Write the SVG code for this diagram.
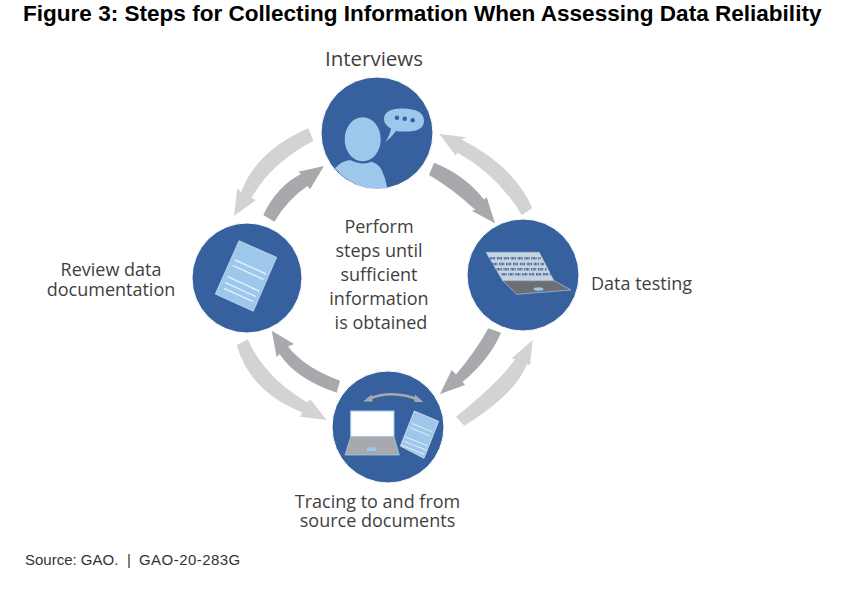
<svg xmlns="http://www.w3.org/2000/svg" width="853" height="593" viewBox="0 0 853 593">
<style>
.t{font-family:"Open Sans","Noto Sans",sans-serif;font-size:18px;fill:#3f3f41}
.m{text-anchor:middle}
.title{font-family:"Liberation Sans",Arial,sans-serif;font-size:22.55px;font-weight:bold;fill:#000}
.src{font-family:"Liberation Sans",Arial,sans-serif;font-size:15px;fill:#333}
.c{fill:#37619E;stroke:#fff;stroke-width:1}
.lb{fill:#9DC8EB}
.dk{fill:#A7A9AC}
.lt{fill:#D1D3D4}
.ln{stroke:#E4EFF8;stroke-width:1.4;fill:none}
.bin{stroke:#37619E;stroke-width:2.4;stroke-dasharray:.9 .5 .9 .5 .9 .5 .9 1.8;fill:none}
</style>
<rect width="853" height="593" fill="#fff"/>
<text class="title" x="23" y="21">Figure 3: Steps for Collecting Information When Assessing Data Reliability</text>
<g id="connectors">
<path class="dk" d="M434 162.7Q465 175 484 199.6L486.7 197.3L495 223.3L471.7 210.7L475.4 210Q453 189 429 175Z"/>
<path class="lt" d="M532.3 208.3Q515 167 461.7 139.5L466.7 137.3L439.3 134L456 156L457 152.5Q498 175 521.7 215Z"/>
<path class="dk" d="M488.3 328.3Q476 351 456 374.5L451.7 370L440 394L465 385L462.5 382Q490 359 501 332.7Z"/>
<path class="lt" d="M456 416.7Q498 383 515 359.5L511.7 358.3L532.7 340L530 365L527 364Q515 395 464.3 425.7Z"/>
<path class="dk" d="M340 380.7Q305 368 288 346.5L294 344L271.7 330.7L276.7 357.3L279.5 354Q296 379 336.7 392.7Z"/>
<path class="lt" d="M236.7 345Q250 392 302.5 412.5L300 416.7L326.7 420L310 399L307.5 402.5Q265 378 247.7 339.3Z"/>
<path class="dk" d="M263.3 215Q277 186 301 174L298.3 171.7L324 166L310 189.3L307.5 186Q288 199 274.3 221.7Z"/>
<path class="lt" d="M308.3 128.3Q256 151 241 192.5L237.3 188.3L234 216L256 200L251.5 198Q270 164 313.3 140.7Z"/>
</g>
<g id="node-interviews">
<circle class="c" cx="377" cy="133" r="56"/>
<path class="lb" d="M335 168.3Q341 161 350 160Q362 166 371.7 161.7Q379 164 381.7 170Q385.5 178 387.3 188A55.5 55.5 0 0 1 335 168.3Z"/>
<ellipse class="lb" cx="362.7" cy="139.3" rx="18.5" ry="22.5" stroke="#37619E" stroke-width="1"/>
<path class="lb" d="M384 119C384 111 392 108.5 403 108.5C416 109 424 112 424 121C424 130 414 132 403 131.5Q398 131.5 396 131Q391 138 385 142.3Q390 135 391 128.5Q384 125 384 119Z"/>
<g fill="#37619E"><circle cx="397" cy="117.7" r="2.2"/><circle cx="404.7" cy="118.7" r="2.2"/><circle cx="412.7" cy="120.3" r="2.2"/></g>
<text class="t m" x="374" y="66" style="font-size:20.5px">Interviews</text>
</g>
<g id="node-data-testing">
<circle class="c" cx="523" cy="275" r="56"/>
<path fill="#C9D3DC" stroke="#9DC8EB" stroke-width=".6" d="M486 252.3H539.3L554 280.7H502.7Z"/>
<path class="bin" d="M490 258.3H540.5M492.3 264H544M496.7 269.3H546.7M501.5 274.3H550.7"/>
<path fill="#6D6E71" stroke="#9DC8EB" stroke-width=".7" d="M502.7 280.7H554L571 290L516.7 294.3Z"/>
<ellipse class="lb" cx="538.5" cy="289" rx="5" ry="1.8"/>
<text class="t" x="591" y="290">Data testing</text>
</g>
<g id="node-tracing">
<circle class="c" cx="388" cy="427" r="56"/>
<path d="M367 399.5Q393 388.5 420 400.5" fill="none" stroke="#A7A9AC" stroke-width="2.6"/>
<path class="dk" d="M363.3 401.5L371.7 394.5L372.7 401.5ZM423.3 402L415 394.5L414.3 402Z"/>
<rect x="350.7" y="411" width="43.3" height="25.7" fill="#fff" stroke="#9DC8EB" stroke-width="1"/>
<path class="dk" stroke="#9DC8EB" stroke-width=".8" d="M350.7 436.7H394L399.3 455H345Z"/>
<rect class="lb" x="366.7" y="447.3" width="9.3" height="3.7"/>
<path class="lb" stroke="#fff" stroke-width=".6" d="M414.3 411L438.7 421.3L424 458.3L400.3 446Z"/>
<path class="ln" d="M411.7 423.3L431.7 431.7M410 427.7L430 436M405 436.7L427.3 445.7M403.3 441L426 450M401.7 445.3L424 454.3" style="stroke-width:1"/>
<text class="t m" x="377.5" y="507.5">Tracing to and from</text>
<text class="t m" x="377.5" y="526.5">source documents</text>
</g>
<g id="node-review">
<circle class="c" cx="247" cy="278" r="55"/>
<path class="lb" stroke="#E4EFF8" stroke-width=".6" d="M239 240.7L276.7 257.3L253.3 311.3L215.3 294Z"/>
<path class="ln" d="M235 260L266 274M232.7 265.3L263.3 279.3M227.7 276.7L259 291M225.3 282.7L256 296.7M224 288.3L253.3 301.7"/>
<text class="t m" x="111" y="275.5">Review data</text>
<text class="t m" x="111" y="296">documentation</text>
</g>
<g id="center-label">
<text class="t m" x="379" y="233">Perform</text>
<text class="t m" x="379" y="257">steps until</text>
<text class="t m" x="379" y="281">sufficient</text>
<text class="t m" x="379" y="305">information</text>
<text class="t m" x="381" y="329">is obtained</text>
</g>
<text class="src" x="25" y="565">Source: GAO.<tspan x="127">|</tspan><tspan x="139" letter-spacing=".45">GAO-20-283G</tspan></text>
</svg>
